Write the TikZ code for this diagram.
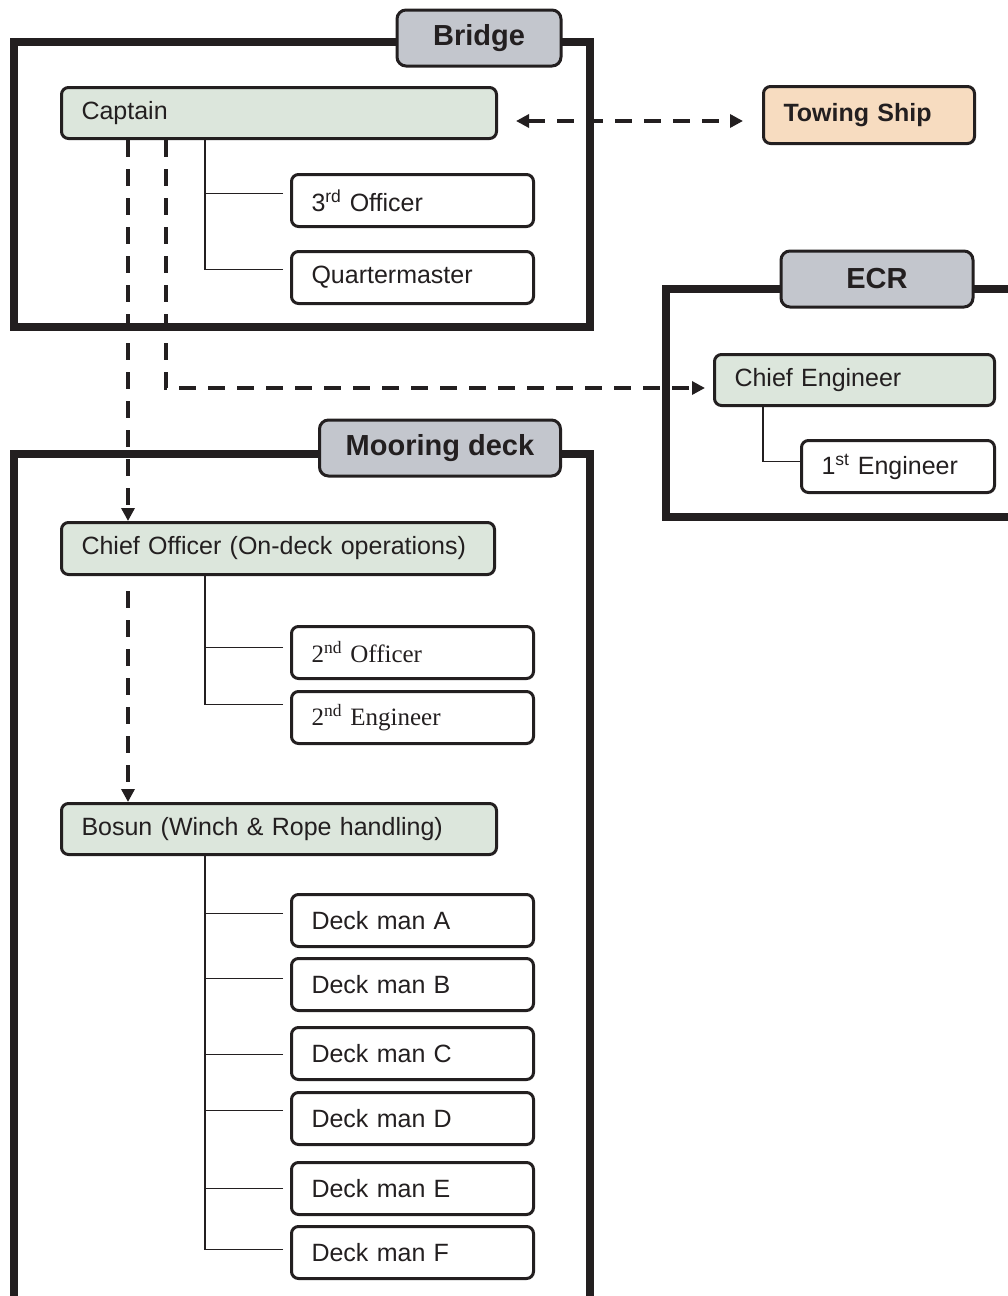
\documentclass[tikz,border=0pt]{standalone}
\usepackage{fontspec}
\setmainfont{Liberation Serif}
\setsansfont{Liberation Sans}
\usetikzlibrary{arrows.meta}

\definecolor{ink}{RGB}{35,31,32}
\definecolor{rolegreen}{RGB}{220,230,220}
\definecolor{tabgray}{RGB}{195,198,205}
\definecolor{towpeach}{RGB}{247,220,192}

\tikzstyle{box} = [rectangle, draw=ink, line width=3pt, rounded corners=7pt, anchor=north west, inner xsep=20pt, inner ysep=0pt, minimum height=52pt, align=left, text=ink, font=\sffamily\fontsize{25}{30}\selectfont]
\tikzstyle{role} = [box, fill=rolegreen, text width=395pt, minimum height=51pt]
\tikzstyle{crew} = [box, fill=white, text width=202pt]
\tikzstyle{tab} = [rectangle, draw=ink, line width=3pt, rounded corners=9pt, fill=tabgray, minimum height=56pt, text=ink, font=\sffamily\bfseries\fontsize{29}{34}\selectfont]
\tikzstyle{frame} = [draw=ink, line width=8pt]
\tikzstyle{tree} = [draw=ink, line width=1.3pt]
\tikzstyle{link} = [draw=ink, line width=4pt, dash pattern=on 17pt off 12pt, >={Triangle[length=13pt,width=13pt]}]

\begin{document}
\begin{tikzpicture}[x=1pt, y=-1pt]
\useasboundingbox (0,0) rectangle (1008,1296);
\clip (0,0) rectangle (1008,1296);
% Frames
\draw[frame] (14,42) rectangle (590,327);
\draw[frame] (666,289) rectangle (1020,517);
\draw[frame] (14,454) rectangle (590,1310);
\node[tab, minimum width=164pt] (bridge) at (479,38) {Bridge};
\node[tab, minimum width=192pt] (ecr) at (877,279) {ECR};
\node[tab, minimum width=241pt] (mooring) at (440,448) {Mooring deck};
% Bridge
\node[role] (cap) at (60,86) {Captain};
\node[crew] (off3) at (290,173) {3\textsuperscript{rd} Officer};
\node[crew] (qm) at (290,250) {Quartermaster};
\node[box, fill=towpeach, text width=171pt, minimum height=57pt, font=\sffamily\bfseries\fontsize{25}{30}\selectfont] (tow) at (762,85) {Towing Ship};
% ECR
\node[role, text width=240pt] (ce) at (713,353) {Chief Engineer};
\node[crew, text width=153pt] (eng1) at (800,439) {1\textsuperscript{st} Engineer};
% Mooring deck
\node[role, text width=393pt, minimum height=52pt] (cpo) at (60,521) {Chief Officer (On-deck operations)};
\node[crew, font=\rmfamily\fontsize{25}{30}\selectfont] (off2) at (290,625) {2\textsuperscript{nd} Officer};
\node[crew, font=\rmfamily\fontsize{25}{30}\selectfont] (eng2) at (290,690) {2\textsuperscript{nd} Engineer};
\node[role] (bos) at (60,802) {Bosun (Winch \& Rope handling)};
\node[crew] (dmA) at (290,893) {Deck man A};
\node[crew] (dmB) at (290,957) {Deck man B};
\node[crew] (dmC) at (290,1026) {Deck man C};
\node[crew] (dmD) at (290,1091) {Deck man D};
\node[crew] (dmE) at (290,1161) {Deck man E};
\node[crew] (dmF) at (290,1225) {Deck man F};
% Tree lines
\coordinate (capSpine) at ([xshift=145pt]cap.south west);
\coordinate (cpoSpine) at ([xshift=145pt]cpo.south west);
\coordinate (bosSpine) at ([xshift=145pt]bos.south west);
\draw[tree] ([xshift=-7pt,yshift=7pt]off3.west) -| (capSpine);
\draw[tree] ([xshift=-7pt,yshift=8pt]qm.west) -| (capSpine);
\draw[tree] ([xshift=-7pt,yshift=5pt]off2.west) -| (cpoSpine);
\draw[tree] ([xshift=-7pt,yshift=13pt]eng2.west) -| (cpoSpine);
\foreach \n/\dy in {dmA/7,dmB/6,dmC/-1,dmD/8,dmE/0,dmF/3}
  \draw[tree] ([xshift=-7pt,yshift=\dy pt]\n.west) -| (bosSpine);
\draw[tree] ([yshift=5pt]eng1.west) -| ([xshift=50pt]ce.south west);
% Paths
\draw[link, <->, shorten <=18pt, shorten >=19pt] ([yshift=-8pt]cap.east) -- ([yshift=-6pt]tow.west);
\draw[link, ->] ([xshift=68pt]cap.south west) -- ([xshift=68pt]cpo.north west);
\draw[link, ->, shorten >=8pt] ([xshift=106pt]cap.south west) |- ([yshift=-8pt]ce.west);
\draw[link, ->, shorten <=15pt] ([xshift=68pt]cpo.south west) -- ([xshift=68pt]bos.north west);
\end{tikzpicture}
\end{document}
